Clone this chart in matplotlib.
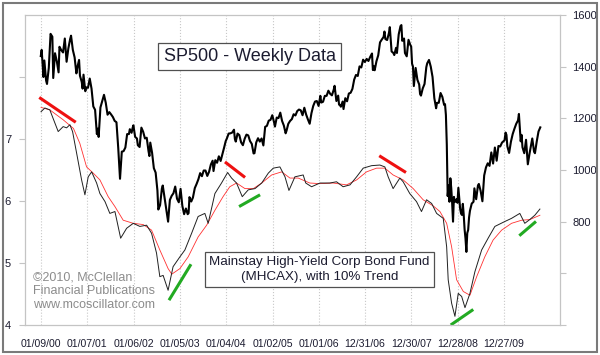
import matplotlib
matplotlib.use("Agg")
import matplotlib.pyplot as plt
import matplotlib.dates as mdates
from matplotlib.patches import Rectangle
import pandas as pd

plt.rcParams['font.family'] = ['Liberation Sans', 'DejaVu Sans']

# S&P 500 weekly closes (sampled roughly every two weeks)
sp_dates = [
    "2000-01-07", "2000-01-14", "2000-01-28", "2000-02-04", "2000-02-18", "2000-02-25", "2000-03-10", "2000-03-24",
    "2000-04-07", "2000-04-14", "2000-04-28", "2000-05-12", "2000-05-26", "2000-06-02", "2000-06-16", "2000-06-30",
    "2000-07-14", "2000-07-28", "2000-08-11", "2000-08-25", "2000-09-01", "2000-09-15", "2000-09-29", "2000-10-13",
    "2000-10-20", "2000-11-03", "2000-11-10", "2000-11-24", "2000-12-01", "2000-12-08", "2000-12-22", "2000-12-29",
    "2001-01-12", "2001-01-26", "2001-02-09", "2001-02-23", "2001-03-09", "2001-03-23", "2001-03-30", "2001-04-06",
    "2001-04-20", "2001-05-04", "2001-05-18", "2001-06-01", "2001-06-15", "2001-06-29", "2001-07-13", "2001-07-27",
    "2001-08-10", "2001-08-24", "2001-09-07", "2001-09-21", "2001-10-05", "2001-10-19", "2001-11-02", "2001-11-16",
    "2001-11-30", "2001-12-07", "2001-12-21", "2001-12-28",
    "2002-01-04", "2002-01-18", "2002-02-01", "2002-02-08", "2002-02-22", "2002-03-08", "2002-03-22", "2002-04-05",
    "2002-04-19", "2002-05-03", "2002-05-10", "2002-05-17", "2002-05-31", "2002-06-14", "2002-06-28", "2002-07-12",
    "2002-07-19", "2002-08-02", "2002-08-16", "2002-08-23", "2002-09-06", "2002-09-20", "2002-10-04", "2002-10-18",
    "2002-11-01", "2002-11-15", "2002-11-29", "2002-12-13", "2002-12-27",
    "2003-01-10", "2003-01-24", "2003-02-07", "2003-02-21", "2003-03-07", "2003-03-14", "2003-03-21", "2003-04-04",
    "2003-04-17", "2003-05-02", "2003-05-16", "2003-05-30", "2003-06-13", "2003-06-27", "2003-07-11", "2003-07-25",
    "2003-08-08", "2003-08-22", "2003-09-05", "2003-09-19", "2003-09-26", "2003-10-10", "2003-10-24", "2003-11-07",
    "2003-11-21", "2003-12-05", "2003-12-19", "2003-12-31",
    "2004-01-09", "2004-01-23", "2004-02-06", "2004-02-20", "2004-03-05", "2004-03-12", "2004-03-19", "2004-04-02",
    "2004-04-16", "2004-04-30", "2004-05-14", "2004-05-28", "2004-06-11", "2004-06-25", "2004-07-09", "2004-07-23",
    "2004-08-06", "2004-08-13", "2004-08-27", "2004-09-10", "2004-09-24", "2004-10-08", "2004-10-22", "2004-11-05",
    "2004-11-19", "2004-12-03", "2004-12-17", "2004-12-31",
    "2005-01-14", "2005-01-21", "2005-02-04", "2005-02-18", "2005-03-04", "2005-03-18", "2005-04-01", "2005-04-15",
    "2005-04-22", "2005-05-06", "2005-05-20", "2005-06-03", "2005-06-17", "2005-07-01", "2005-07-15", "2005-07-29",
    "2005-08-12", "2005-08-26", "2005-09-09", "2005-09-23", "2005-10-07", "2005-10-21", "2005-11-04", "2005-11-18",
    "2005-12-02", "2005-12-16", "2005-12-30",
    "2006-01-13", "2006-01-20", "2006-02-03", "2006-02-17", "2006-03-03", "2006-03-17", "2006-03-31", "2006-04-14",
    "2006-04-28", "2006-05-05", "2006-05-19", "2006-06-02", "2006-06-09", "2006-06-16", "2006-06-23", "2006-07-07",
    "2006-07-14", "2006-07-28", "2006-08-11", "2006-08-25", "2006-09-08", "2006-09-22", "2006-10-06", "2006-10-20",
    "2006-11-03", "2006-11-17", "2006-12-01", "2006-12-15", "2006-12-29",
    "2007-01-12", "2007-01-26", "2007-02-09", "2007-02-23", "2007-03-02", "2007-03-09", "2007-03-16", "2007-03-30",
    "2007-04-13", "2007-04-27", "2007-05-11", "2007-05-25", "2007-06-01", "2007-06-08", "2007-06-22", "2007-07-06",
    "2007-07-13", "2007-07-27", "2007-08-10", "2007-08-17", "2007-08-31", "2007-09-07", "2007-09-21", "2007-10-05",
    "2007-10-12", "2007-10-19", "2007-11-02", "2007-11-09", "2007-11-23", "2007-12-07", "2007-12-21", "2007-12-28",
    "2008-01-04", "2008-01-11", "2008-01-18", "2008-02-01", "2008-02-15", "2008-02-29", "2008-03-07", "2008-03-14",
    "2008-03-28", "2008-04-11", "2008-04-25", "2008-05-02", "2008-05-16", "2008-05-30", "2008-06-13", "2008-06-27",
    "2008-07-11", "2008-07-18", "2008-08-01", "2008-08-15", "2008-08-29", "2008-09-12", "2008-09-19", "2008-09-26",
    "2008-10-03", "2008-10-10", "2008-10-17", "2008-10-24", "2008-10-31", "2008-11-07", "2008-11-14", "2008-11-21",
    "2008-11-28", "2008-12-05", "2008-12-12", "2008-12-19", "2008-12-26",
    "2009-01-02", "2009-01-09", "2009-01-16", "2009-01-23", "2009-01-30", "2009-02-06", "2009-02-13", "2009-02-20",
    "2009-02-27", "2009-03-06", "2009-03-13", "2009-03-20", "2009-03-27", "2009-04-03", "2009-04-17", "2009-05-01",
    "2009-05-08", "2009-05-22", "2009-06-05", "2009-06-12", "2009-06-26", "2009-07-10", "2009-07-24", "2009-08-07",
    "2009-08-21", "2009-09-04", "2009-09-18", "2009-10-02", "2009-10-16", "2009-10-30", "2009-11-13", "2009-11-27",
    "2009-12-11", "2009-12-31",
    "2010-01-08", "2010-01-15", "2010-01-22", "2010-02-05", "2010-02-19", "2010-03-05", "2010-03-19", "2010-04-02",
    "2010-04-16", "2010-04-23", "2010-05-07", "2010-05-14", "2010-05-21", "2010-06-04", "2010-06-18", "2010-07-02",
    "2010-07-16", "2010-07-30", "2010-08-06", "2010-08-20", "2010-08-27", "2010-09-10", "2010-09-24", "2010-10-08",
]
sp_close = [
    1441, 1465, 1360, 1424, 1346, 1333, 1395, 1527,
    1516, 1356, 1452, 1421, 1378, 1477, 1464, 1455,
    1509, 1419, 1471, 1507, 1520, 1465, 1436, 1374,
    1396, 1426, 1365, 1341, 1315, 1369, 1305, 1320,
    1318, 1354, 1315, 1246, 1233, 1139, 1160, 1128,
    1242, 1266, 1291, 1260, 1214, 1224, 1215, 1205,
    1190, 1185, 1085, 966, 1071, 1073, 1087, 1139,
    1139, 1158, 1144, 1161,
    1173, 1128, 1122, 1096, 1089, 1164, 1148, 1122,
    1125, 1073, 1054, 1106, 1067, 1007, 990, 921,
    847, 864, 928, 940, 893, 846, 800, 884,
    900, 910, 936, 889, 875,
    927, 861, 829, 851, 829, 833, 895, 878,
    893, 930, 946, 964, 988, 976, 998, 998,
    977, 993, 1021, 1036, 996, 1038, 1028, 1053,
    1035, 1061, 1088, 1112,
    1122, 1141, 1142, 1145, 1156, 1120, 1110, 1141,
    1135, 1107, 1096, 1121, 1137, 1134, 1112, 1101,
    1064, 1065, 1107, 1123, 1110, 1122, 1095, 1167,
    1171, 1191, 1194, 1212,
    1185, 1168, 1203, 1201, 1222, 1190, 1172, 1142,
    1152, 1179, 1190, 1197, 1216, 1211, 1228, 1234,
    1231, 1212, 1241, 1215, 1196, 1179, 1220, 1248,
    1265, 1267, 1248,
    1287, 1261, 1264, 1287, 1287, 1307, 1295, 1289,
    1311, 1326, 1267, 1288, 1253, 1252, 1245, 1265,
    1236, 1278, 1266, 1296, 1299, 1314, 1350, 1368,
    1364, 1401, 1397, 1427, 1418,
    1430, 1422, 1438, 1451, 1387, 1402, 1386, 1421,
    1444, 1494, 1505, 1515, 1536, 1507, 1503, 1530,
    1553, 1459, 1453, 1445, 1473, 1453, 1525, 1557,
    1561, 1500, 1509, 1453, 1440, 1504, 1484, 1478,
    1411, 1401, 1325, 1395, 1349, 1331, 1294, 1288,
    1316, 1333, 1398, 1413, 1426, 1400, 1360, 1278,
    1239, 1260, 1260, 1298, 1283, 1252, 1255, 1213,
    1099, 899, 940, 877, 968, 930, 873, 800,
    896, 876, 880, 887, 873,
    931, 890, 850, 832, 826, 869, 827, 770,
    735, 683, 756, 768, 816, 842, 870, 877,
    929, 887, 940, 946, 919, 879, 979, 1010,
    1026, 1016, 1068, 1025, 1087, 1036, 1093, 1091,
    1106, 1115,
    1145, 1136, 1092, 1066, 1109, 1139, 1160, 1179,
    1192, 1217, 1111, 1136, 1088, 1065, 1117, 1022,
    1065, 1102, 1122, 1071, 1065, 1110, 1149, 1165,
]

# Mainstay High-Yield Corp Bond Fund (MHCAX) price
fund_dates = [
    "2000-01-09", "2000-02-08", "2000-03-18", "2000-05-23", "2000-07-01", "2000-07-28", "2000-08-23", "2000-09-13",
    "2000-10-15", "2000-11-23", "2000-12-19", "2001-01-14", "2001-02-10", "2001-03-21", "2001-04-16", "2001-05-26",
    "2001-07-03", "2001-08-12", "2001-09-26", "2001-11-12", "2002-01-03", "2002-02-24", "2002-04-18", "2002-05-27",
    "2002-07-05", "2002-07-31", "2002-08-26", "2002-10-04", "2002-11-12", "2003-01-05", "2003-02-13", "2003-04-07",
    "2003-05-28", "2003-07-20", "2003-08-15", "2003-10-07", "2003-11-28", "2004-01-15", "2004-02-15", "2004-03-25",
    "2004-05-09", "2004-06-25", "2004-08-17", "2004-10-09", "2004-11-30", "2005-01-08", "2005-03-01", "2005-04-10",
    "2005-05-11", "2005-06-27", "2005-08-31", "2005-09-20", "2005-11-05", "2006-01-10", "2006-03-28", "2006-05-20",
    "2006-07-11", "2006-09-03", "2006-10-25", "2006-12-16", "2007-02-20", "2007-04-26", "2007-06-04", "2007-06-30",
    "2007-08-08", "2007-09-30", "2007-10-26", "2007-12-17", "2008-02-08", "2008-03-18", "2008-04-27", "2008-06-06",
    "2008-07-15", "2008-09-05", "2008-10-02", "2008-10-14", "2008-11-10", "2008-12-06", "2009-01-01", "2009-01-28",
    "2009-02-23", "2009-04-03", "2009-05-12", "2009-07-04", "2009-08-24", "2009-10-16", "2010-01-03", "2010-02-24",
    "2010-04-30", "2010-06-08", "2010-07-17", "2010-08-26", "2010-10-05",
]
fund_price = [
    7.44, 7.50, 7.47, 7.12, 7.20, 7.18, 7.23, 7.12,
    6.77, 6.34, 6.10, 6.39, 6.47, 6.29, 6.12, 5.99,
    5.80, 5.83, 5.40, 5.56, 5.64, 5.59, 5.61, 5.48,
    5.16, 4.78, 4.80, 4.56, 4.94, 5.10, 5.21, 5.48,
    5.75, 5.80, 5.64, 6.12, 6.29, 6.46, 6.37, 6.29,
    6.07, 6.18, 6.20, 6.29, 6.45, 6.53, 6.55, 6.39,
    6.17, 6.39, 6.42, 6.29, 6.23, 6.29, 6.29, 6.31,
    6.23, 6.26, 6.39, 6.53, 6.57, 6.58, 6.55, 6.39,
    6.20, 6.37, 6.31, 6.12, 5.99, 5.83, 6.02, 5.96,
    5.80, 5.72, 5.26, 4.73, 4.35, 4.14, 4.51, 4.46,
    4.28, 4.51, 4.86, 5.21, 5.40, 5.59, 5.67, 5.72,
    5.80, 5.64, 5.70, 5.77, 5.87,
]

# 10% trend of the fund
trend_dates = [
    "2000-01-09", "2000-03-18", "2000-07-01", "2000-09-20", "2000-11-09", "2001-01-01", "2001-02-22", "2001-04-16",
    "2001-06-20", "2001-08-12", "2001-10-16", "2002-01-03", "2002-03-22", "2002-05-27", "2002-07-31", "2002-10-04",
    "2002-11-02", "2003-01-05", "2003-03-11", "2003-05-28", "2003-08-03", "2003-10-07", "2003-12-10", "2004-02-01",
    "2004-03-25", "2004-05-30", "2004-08-04", "2004-10-09", "2004-12-26", "2005-03-15", "2005-05-19", "2005-07-23",
    "2005-10-22", "2006-01-10", "2006-04-23", "2006-08-07", "2006-10-25", "2007-01-11", "2007-03-31", "2007-06-04",
    "2007-08-08", "2007-10-26", "2008-01-13", "2008-03-31", "2008-06-19", "2008-08-10", "2008-10-02", "2008-11-10",
    "2008-12-19", "2009-02-10", "2009-04-03", "2009-05-26", "2009-07-29", "2009-10-02", "2009-12-08", "2010-02-24",
    "2010-05-14", "2010-07-17", "2010-10-05",
]
trend_value = [
    7.51, 7.47, 7.31, 7.17, 6.93, 6.55, 6.45, 6.34,
    6.07, 5.91, 5.69, 5.64, 5.62, 5.53, 5.21, 4.91,
    4.82, 4.91, 5.10, 5.42, 5.61, 5.85, 6.07, 6.23,
    6.29, 6.20, 6.20, 6.29, 6.42, 6.47, 6.37, 6.37,
    6.29, 6.28, 6.29, 6.26, 6.34, 6.47, 6.53, 6.53,
    6.42, 6.34, 6.20, 6.02, 5.92, 5.83, 5.64, 5.26,
    4.73, 4.54, 4.48, 4.78, 5.10, 5.37, 5.53, 5.64,
    5.69, 5.70, 5.77,
]

# hand-drawn divergence marks: (start date, start value, end date, end value)
red_marks = [
    ("1999-12-26", 7.67, "2000-10-08", 7.27),
    ("2003-12-25", 6.63, "2004-05-31", 6.38),
    ("2007-04-21", 6.73, "2007-11-17", 6.46),
]
green_marks = [
    ("2002-10-11", 4.40, "2003-04-02", 4.98),
    ("2004-04-14", 5.91, "2004-09-26", 6.10),
    ("2008-11-03", 4.00, "2009-04-29", 4.25),
    ("2010-04-26", 5.44, "2010-09-04", 5.67),
]

x_ticks = ["2000-01-09", "2001-01-07", "2002-01-06", "2003-01-05", "2004-01-04", "2005-01-02",
           "2006-01-01", "2006-12-31", "2007-12-30", "2008-12-28", "2009-12-27"]
fund_ticks = [4, 5, 6, 7, 8]
fund_labels = ["4", "5", "6", "7", ""]
sp_ticks = [400, 600, 800, 1000, 1200, 1400, 1600]
sp_labels = ["", "", "800", "1000", "1200", "1400", "1600"]

txt = "#1c1c30"
frame = "#c4c4c4"

fig = plt.figure(figsize=(6, 3.55), dpi=100)
ax = fig.add_axes([25 / 600, 30 / 355, 535 / 600, 310 / 355])
ax2 = ax.twinx()

ax.plot(pd.to_datetime(trend_dates), trend_value, color="#ff3030", lw=0.6)
ax.plot(pd.to_datetime(fund_dates), fund_price, color="#202020", lw=0.7)
for d0, v0, d1, v1 in red_marks:
    ax.plot(pd.to_datetime([d0, d1]), [v0, v1], color="#ee1010", lw=2.2,
            solid_capstyle="butt", clip_on=False)
for d0, v0, d1, v1 in green_marks:
    ax.plot(pd.to_datetime([d0, d1]), [v0, v1], color="#22aa22", lw=2.2,
            solid_capstyle="butt", clip_on=False)

ax2.plot(pd.to_datetime(sp_dates), sp_close, color="black", lw=1.5)

ax.set_xlim(pd.Timestamp("1999-09-05"), pd.Timestamp("2011-03-12"))
ax.set_ylim(4, 9)
ax2.set_ylim(400, 1600)

ax.set_xticks(pd.to_datetime(x_ticks))
ax.xaxis.set_major_formatter(mdates.DateFormatter("%m/%d/%y"))
ax.grid(axis="x", color="#c8c8c8", ls=":", lw=0.8)
ax.tick_params(axis="x", length=0, pad=10, labelsize=7.6, labelcolor=txt)

ax.set_yticks(fund_ticks)
ax.set_yticklabels(fund_labels)
ax.tick_params(axis="y", length=4, width=0.8, color=frame, pad=6, labelsize=8, labelcolor=txt)
ax2.set_yticks(sp_ticks)
ax2.set_yticklabels(sp_labels)
ax2.tick_params(axis="y", length=4, width=0.8, color=frame, pad=5, labelsize=8, labelcolor=txt)

for a in (ax, ax2):
    for s in a.spines.values():
        s.set_color(frame)
        s.set_linewidth(0.8)

box = dict(boxstyle="square,pad=0.3", facecolor="white", edgecolor="#505050", lw=0.9)
fig.text(249.5 / 600, 1 - 56.5 / 355, "SP500 - Weekly Data", fontsize=13, color=txt,
         ha="center", va="center", bbox=box)
fig.text(319.5 / 600, 1 - 269.5 / 355, "Mainstay High-Yield Corp Bond Fund\n(MHCAX), with 10% Trend",
         fontsize=9.6, color=txt, ha="center", va="center", linespacing=1.25,
         bbox=dict(boxstyle="square,pad=0.35", facecolor="white", edgecolor="#505050", lw=0.9))
fig.text(33 / 600, 1 - 291 / 355, "\u00a92010, McClellan\nFinancial Publications\nwww.mcoscillator.com",
         fontsize=9, color="#8c8c8c", ha="left", va="center", linespacing=1.2)

fig.patches.append(Rectangle((3 / 600, 3 / 355), 594 / 600, 349 / 355, transform=fig.transFigure,
                             fill=False, edgecolor="#7a7a7a", lw=1.5))

fig.savefig("out.png", dpi=100)
